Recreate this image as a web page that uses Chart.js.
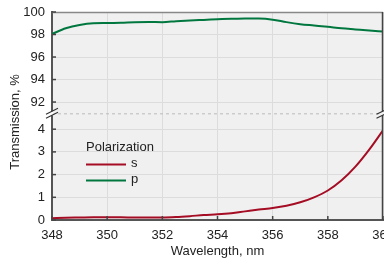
<!DOCTYPE html>
<html>
<head>
<meta charset="utf-8">
<script src="https://cdn.jsdelivr.net/npm/chart.js@4"></script>
<style>
html, body { margin: 0; padding: 0; background: #fff; }
</style>
</head>
<body>
<canvas id="myChart" width="384" height="262"></canvas>
<script>
const wavelength = [348, 348.5, 349, 349.5, 350, 350.5, 351, 351.5, 352, 352.5, 353, 353.5, 354,
                    354.5, 355, 355.5, 356, 356.5, 357, 357.5, 358, 358.5, 359, 359.5, 360];
const sValues = [0.08, 0.1, 0.11, 0.12, 0.12, 0.12, 0.11, 0.11, 0.11, 0.13, 0.17, 0.22, 0.25,
                 0.3, 0.38, 0.46, 0.53, 0.63, 0.78, 1.0, 1.3, 1.75, 2.35, 3.1, 3.95];
const pValues = [98.05, 98.55, 98.85, 99.0, 99.02, 99.05, 99.1, 99.12, 99.1, 99.18, 99.25, 99.3, 99.35,
                 99.4, 99.43, 99.42, 99.32, 99.1, 98.92, 98.8, 98.68, 98.55, 98.45, 98.35, 98.27];
const seriesNames = ['s', 'p'];
const seriesColors = ['#a50d24', '#00773f'];
const legendTitle = 'Polarization';
const xTitle = 'Wavelength, nm';
const yTitle = 'Transmission, %';

Chart.defaults.font.family = "'Liberation Sans', Arial, sans-serif";
Chart.defaults.font.size = 13;
Chart.defaults.color = '#222';

const toPoints = vals => vals.map((v, i) => ({ x: wavelength[i], y: v }));

const decor = {
    id: 'decor',
    beforeDraw(chart) {
        const { ctx, chartArea: a } = chart;
        ctx.save();
        ctx.fillStyle = '#f0f0f0';
        ctx.fillRect(a.left, a.top, a.right - a.left, a.bottom - a.top);
        ctx.restore();
    },
    afterDraw(chart) {
        const { ctx, chartArea: a, scales } = chart;
        const yBreak = scales.yP.bottom;
        ctx.save();

        // top + right border
        ctx.lineWidth = 1.5;
        ctx.strokeStyle = '#888';
        ctx.beginPath(); ctx.moveTo(a.left, a.top + 0.5); ctx.lineTo(a.right, a.top + 0.5); ctx.stroke();
        ctx.strokeStyle = '#444';
        ctx.beginPath(); ctx.moveTo(a.right - 0.5, a.top); ctx.lineTo(a.right - 0.5, a.bottom); ctx.stroke();

        // inner tick marks
        ctx.strokeStyle = '#444';
        ctx.lineWidth = 1.5;
        for (const t of scales.x.ticks) {
            const px = scales.x.getPixelForValue(t.value);
            ctx.beginPath(); ctx.moveTo(px, a.bottom); ctx.lineTo(px, a.bottom - 4); ctx.stroke();
        }
        for (const key of ['yS', 'yP']) {
            for (const t of scales[key].ticks) {
                const py = scales[key].getPixelForValue(t.value);
                ctx.beginPath(); ctx.moveTo(a.left, py); ctx.lineTo(a.left + 4, py); ctx.stroke();
            }
        }

        // axis break
        ctx.setLineDash([3, 3]);
        ctx.strokeStyle = '#bbb';
        ctx.lineWidth = 1;
        ctx.beginPath(); ctx.moveTo(a.left, yBreak + 0.5); ctx.lineTo(a.right, yBreak + 0.5); ctx.stroke();
        ctx.setLineDash([]);
        for (const x of [a.left, a.right - 0.5]) {
            ctx.fillStyle = x === a.left ? '#fff' : '#f0f0f0';
            ctx.fillRect(x - 1.5, yBreak - 2, 3, 4);
            ctx.strokeStyle = '#333';
            ctx.lineWidth = 1.2;
            for (const d of [-2, 2]) {
                ctx.beginPath();
                ctx.moveTo(x - 6, yBreak + d + 3);
                ctx.lineTo(x + 6, yBreak + d - 3);
                ctx.stroke();
            }
        }

        // y title
        ctx.fillStyle = '#222';
        ctx.font = "13px 'Liberation Sans', Arial, sans-serif";
        ctx.textAlign = 'center';
        ctx.textBaseline = 'middle';
        ctx.translate(15, 122);
        ctx.rotate(-Math.PI / 2);
        ctx.fillText(yTitle, 0, 0);
        ctx.setTransform(1, 0, 0, 1, 0, 0);

        // legend
        const lx = a.left + 34;
        ctx.textAlign = 'left';
        ctx.fillText(legendTitle, lx, 147);
        chart.data.datasets.forEach((ds, i) => {
            const ly = 164.5 + i * 16;
            ctx.strokeStyle = ds.borderColor;
            ctx.lineWidth = 2;
            ctx.beginPath(); ctx.moveTo(lx, ly); ctx.lineTo(lx + 40, ly); ctx.stroke();
            ctx.fillText(ds.label, lx + 45, ly - 1.5);
        });
        ctx.restore();
    }
};

function fitY(scale) {
    scale.width = 52;
    scale.paddingTop = 0;
    scale.paddingBottom = 0;
}

const ctx = document.getElementById('myChart').getContext('2d');
const myChart = new Chart(ctx, {
    type: 'line',
    data: {
        datasets: [{
            label: seriesNames[0],
            data: toPoints(sValues),
            yAxisID: 'yS',
            borderColor: seriesColors[0],
            borderWidth: 2,
            pointRadius: 0,
            cubicInterpolationMode: 'monotone'
        }, {
            label: seriesNames[1],
            data: toPoints(pValues),
            yAxisID: 'yP',
            borderColor: seriesColors[1],
            borderWidth: 2,
            pointRadius: 0,
            cubicInterpolationMode: 'monotone'
        }]
    },
    options: {
        responsive: false,
        animation: false,
        layout: { padding: { top: 12, right: 1, left: 0, bottom: 0 } },
        plugins: { legend: { display: false }, tooltip: { enabled: false } },
        scales: {
            x: {
                type: 'linear',
                min: 348,
                max: 360,
                ticks: { stepSize: 2, padding: 8, autoSkip: false, maxRotation: 0 },
                grid: { color: '#dcdcdc', drawTicks: false },
                border: { color: '#555', width: 2 },
                title: { display: true, text: xTitle, padding: { top: 0, bottom: 3 } },
                afterFit(scale) {
                    scale.height = 42;
                    scale.paddingLeft = 0;
                    scale.paddingRight = 0;
                }
            },
            yS: {
                type: 'linear',
                position: 'left',
                stack: 'y',
                stackWeight: 105.75,
                min: 0,
                max: 4.7,
                ticks: { stepSize: 1, padding: 7, includeBounds: false, autoSkip: false },
                grid: { color: '#dcdcdc', drawTicks: false },
                border: { color: '#555', width: 2 },
                afterFit: fitY
            },
            yP: {
                type: 'linear',
                position: 'left',
                stack: 'y',
                stackWeight: 100.4,
                min: 91,
                max: 100,
                ticks: { stepSize: 2, padding: 7, includeBounds: false, autoSkip: false },
                grid: { color: '#dcdcdc', drawTicks: false },
                border: { color: '#555', width: 2 },
                afterFit: fitY
            }
        }
    },
    plugins: [decor]
});
</script>
</body>
</html>
